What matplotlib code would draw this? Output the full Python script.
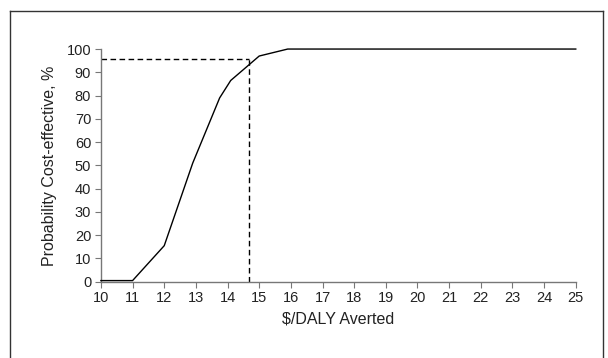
import numpy as np
import matplotlib
matplotlib.use("Agg")
import matplotlib.pyplot as plt
from matplotlib.lines import Line2D

# cost-effectiveness acceptability curve
cost = [10, 11, 12, 12.9, 13.75, 14.1, 15, 15.9, 25]
prob = [0.5, 0.5, 15.5, 51, 79, 86.5, 97, 100, 100]

# threshold marker (dashed)
thr_x = 14.67
thr_y = 95.6

xticks = list(range(10, 26))
yticks = list(range(0, 101, 10))

plt.rcParams['font.family'] = ['Liberation Sans Narrow', 'Liberation Sans', 'DejaVu Sans']

fig = plt.figure(figsize=(6.08, 3.58), dpi=100)
ax = fig.add_axes([0.166, 0.213, 0.781, 0.650])

ax.plot(cost, prob, '-', color='black', lw=1.0, clip_on=False, zorder=3)
ax.plot([10, thr_x], [thr_y, thr_y], '--', color='black', lw=1.0, dashes=(4, 2.5))
ax.plot([thr_x, thr_x], [0, thr_y], '--', color='black', lw=1.0, dashes=(4, 2.5))

ax.set_xlim(10, 25)
ax.set_ylim(0, 100)
ax.set_xticks(xticks)
ax.set_yticks(yticks)
ax.tick_params(direction='out', length=4, width=0.8, color='#777777',
               labelsize=10.5, colors='#222222', pad=3)
for s in ['top', 'right']:
    ax.spines[s].set_visible(False)
for s in ['left', 'bottom']:
    ax.spines[s].set_color('#777777')
    ax.spines[s].set_linewidth(1.0)

ax.set_xlabel('\\$/DALY Averted', fontsize=11.5, color='#222222', labelpad=4)
ax.set_ylabel('Probability Cost-effective, %', fontsize=11.5, color='#222222', labelpad=7)

# outer frame: left, top, right edges
fx0, fx1, fy = 9.5 / 608, 603 / 608, 1 - 11 / 358
fig.add_artist(Line2D([fx0, fx0], [0, fy], color='#333333', lw=1.0))
fig.add_artist(Line2D([fx0, fx1], [fy, fy], color='#333333', lw=1.0))
fig.add_artist(Line2D([fx1, fx1], [0, fy], color='#333333', lw=1.0))

fig.savefig('out.png', dpi=100)
